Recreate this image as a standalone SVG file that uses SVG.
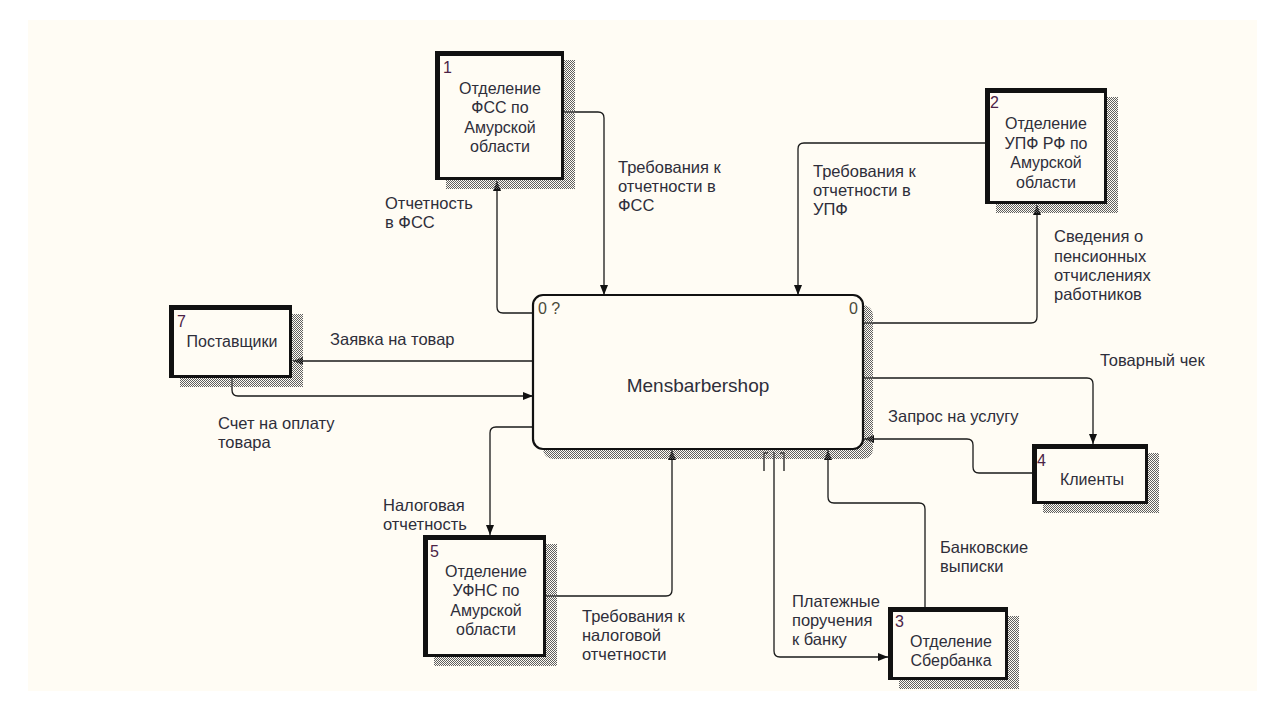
<svg xmlns="http://www.w3.org/2000/svg" width="1283" height="710" viewBox="0 0 1283 710">
  <defs>
    <pattern id="hatch" width="2" height="2" patternUnits="userSpaceOnUse">
      <rect x="0" y="0" width="1" height="1" fill="#5f5f5f"/>
      <rect x="1" y="1" width="1" height="1" fill="#5f5f5f"/>
    </pattern>
    <marker id="arrow" markerUnits="userSpaceOnUse" markerWidth="10" markerHeight="8" refX="10" refY="4" orient="auto">
      <path d="M0,0 L10,4 L0,8 Z" fill="#111"/>
    </marker>
    <style>
      .bg { fill: #fffcf4; }
      .shadow { fill: url(#hatch); }
      .frame { fill: #111; }
      .fill { fill: #fffcf4; }
      .main { fill: #fffcf4; stroke: #111; stroke-width: 2.2; }
      .t { font-family: "Liberation Sans", Arial, sans-serif; font-size: 16px; fill: #2e2e3a; }
      .lbl { font-size: 16.5px; }
      .c { text-anchor: middle; }
      .num { font-family: "Liberation Sans", Arial, sans-serif; font-size: 16px; fill: #4b2346; }
      .title { font-family: "Liberation Sans", Arial, sans-serif; font-size: 19px; fill: #2e2e3a; text-anchor: middle; }
      .arc { fill: none; stroke: #1a1a1a; stroke-width: 1.3; }
      .arr { marker-end: url(#arrow); }
    </style>
  </defs>

  <rect x="0" y="0" width="1283" height="710" fill="#ffffff"/>
  <rect class="bg" x="28" y="20" width="1229" height="671"/>

  <!-- arrows between activity and external entities -->
  <g id="connectors">
    <!-- Отчетность в ФСС -->
    <path class="arc arr" d="M533 313 H503 Q497 313 497 307 V181"/>
    <!-- Требования к отчетности в ФСС -->
    <path class="arc arr" d="M564 112 H598 Q604 112 604 118 V295"/>
    <!-- Требования к отчетности в УПФ -->
    <path class="arc arr" d="M985 143 H804 Q798 143 798 149 V295"/>
    <!-- Сведения о пенсионных отчислениях работников -->
    <path class="arc arr" d="M863 323 H1031 Q1037 323 1037 317 V205"/>
    <!-- Заявка на товар -->
    <path class="arc arr" d="M533 361 H293"/>
    <!-- Счет на оплату товара -->
    <path class="arc arr" d="M232 378 V390 Q232 396 238 396 H533"/>
    <!-- Налоговая отчетность -->
    <path class="arc arr" d="M533 427 H496 Q490 427 490 433 V535"/>
    <!-- Требования к налоговой отчетности -->
    <path class="arc arr" d="M546 596 H666 Q672 596 672 590 V450"/>
    <!-- Платежные поручения к банку -->
    <path class="arc arr" d="M774 452 V651 Q774 657 780 657 H888"/>
    <!-- tunnel brackets -->
    <path class="arc" d="M768 453 H764 V471"/>
    <path class="arc" d="M780 453 H784 V471"/>
    <!-- Банковские выписки -->
    <path class="arc arr" d="M925 607 V509 Q925 503 919 503 H834 Q828 503 828 497 V450"/>
    <!-- Товарный чек -->
    <path class="arc arr" d="M863 378 H1087 Q1093 378 1093 384 V444"/>
    <!-- Запрос на услугу -->
    <path class="arc arr" d="M1032 473 H979 Q973 473 973 467 V445 Q973 439 967 439 H864"/>
  </g>

  <!-- arrow labels -->
  <g id="labels">
    <text class="t lbl" x="385" y="209">Отчетность</text>
    <text class="t lbl" x="385" y="228">в ФСС</text>

    <text class="t lbl" x="618" y="173">Требования к</text>
    <text class="t lbl" x="618" y="192">отчетности в</text>
    <text class="t lbl" x="618" y="211">ФСС</text>

    <text class="t lbl" x="813" y="177">Требования к</text>
    <text class="t lbl" x="813" y="196">отчетности в</text>
    <text class="t lbl" x="813" y="215">УПФ</text>

    <text class="t lbl" x="1054" y="242">Сведения о</text>
    <text class="t lbl" x="1054" y="262">пенсионных</text>
    <text class="t lbl" x="1054" y="281">отчислениях</text>
    <text class="t lbl" x="1054" y="300">работников</text>

    <text class="t lbl" x="330" y="345">Заявка на товар</text>

    <text class="t lbl" x="218" y="429">Счет на оплату</text>
    <text class="t lbl" x="218" y="448">товара</text>

    <text class="t lbl" x="383" y="511">Налоговая</text>
    <text class="t lbl" x="383" y="530">отчетность</text>

    <text class="t lbl" x="582" y="622">Требования к</text>
    <text class="t lbl" x="582" y="641">налоговой</text>
    <text class="t lbl" x="582" y="660">отчетности</text>

    <text class="t lbl" x="792" y="607">Платежные</text>
    <text class="t lbl" x="792" y="626">поручения</text>
    <text class="t lbl" x="792" y="645">к банку</text>

    <text class="t lbl" x="940" y="553">Банковские</text>
    <text class="t lbl" x="940" y="572">выписки</text>

    <text class="t lbl" x="1100" y="366">Товарный чек</text>

    <text class="t lbl" x="888" y="422">Запрос на услугу</text>
  </g>

  <!-- context activity -->
  <g id="node-0">
    <rect class="shadow" x="543" y="305" width="330" height="154" rx="10"/>
    <rect class="main" x="533" y="295" width="330" height="154" rx="10"/>
    <text class="num" x="538" y="314" style="fill:#4a4a3a">0 ?</text>
    <text class="num" x="858" y="314" style="fill:#4a4a3a;text-anchor:end">0</text>
    <text class="title" x="698" y="392">Mensbarbershop</text>
  </g>

  <!-- external references -->
  <g id="node-1">
    <rect class="shadow" x="446" y="60" width="129" height="129"/>
    <rect class="frame" x="435" y="51" width="129" height="129"/>
    <rect class="fill" x="440" y="56" width="121" height="121"/>
    <text class="num" x="443" y="73">1</text>
    <text class="t c" x="500" y="94">Отделение</text>
    <text class="t c" x="500" y="113">ФСС по</text>
    <text class="t c" x="500" y="133">Амурской</text>
    <text class="t c" x="500" y="152">области</text>
  </g>

  <g id="node-2">
    <rect class="shadow" x="996" y="97" width="122" height="116"/>
    <rect class="frame" x="985" y="88" width="122" height="116"/>
    <rect class="fill" x="990" y="93" width="114" height="108"/>
    <text class="num" x="990" y="108">2</text>
    <text class="t c" x="1046" y="129">Отделение</text>
    <text class="t c" x="1046" y="149">УПФ РФ по</text>
    <text class="t c" x="1046" y="168">Амурской</text>
    <text class="t c" x="1046" y="188">области</text>
  </g>

  <g id="node-7">
    <rect class="shadow" x="180" y="314" width="123" height="73"/>
    <rect class="frame" x="169" y="305" width="123" height="73"/>
    <rect class="fill" x="174" y="310" width="115" height="65"/>
    <text class="num" x="177" y="327">7</text>
    <text class="t c" x="232" y="347">Поставщики</text>
  </g>

  <g id="node-5">
    <rect class="shadow" x="434" y="544" width="123" height="122"/>
    <rect class="frame" x="423" y="535" width="123" height="122"/>
    <rect class="fill" x="428" y="540" width="115" height="114"/>
    <text class="num" x="430" y="557">5</text>
    <text class="t c" x="486" y="577">Отделение</text>
    <text class="t c" x="486" y="596">УФНС по</text>
    <text class="t c" x="486" y="616">Амурской</text>
    <text class="t c" x="486" y="635">области</text>
  </g>

  <g id="node-3">
    <rect class="shadow" x="899" y="616" width="120" height="73"/>
    <rect class="frame" x="888" y="607" width="120" height="73"/>
    <rect class="fill" x="893" y="612" width="112" height="65"/>
    <text class="num" x="895" y="627">3</text>
    <text class="t c" x="951" y="647">Отделение</text>
    <text class="t c" x="951" y="666">Сбербанка</text>
  </g>

  <g id="node-4">
    <rect class="shadow" x="1043" y="453" width="116" height="60"/>
    <rect class="frame" x="1032" y="444" width="116" height="60"/>
    <rect class="fill" x="1037" y="449" width="108" height="52"/>
    <text class="num" x="1037" y="466">4</text>
    <text class="t c" x="1092" y="485">Клиенты</text>
  </g>
</svg>
